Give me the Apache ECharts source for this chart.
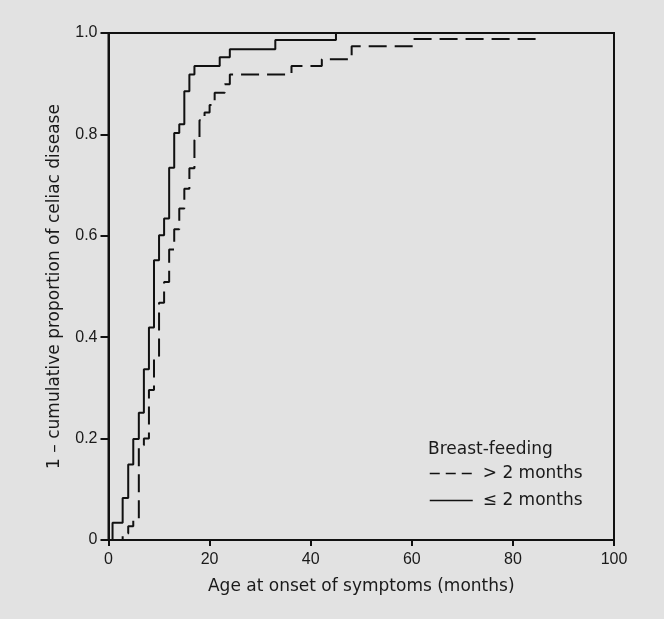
<!DOCTYPE html>
<html>
<head>
<meta charset="utf-8">
<script src="https://cdn.jsdelivr.net/npm/echarts@6/dist/echarts.min.js"></script>
<style>
  html, body { margin: 0; padding: 0; background: #e2e2e2; }
  #chart { width: 664px; height: 619px; }
</style>
</head>
<body>
<div id="chart"></div>
<script>
// breast-feeding <= 2 months (solid)
const shortMonths = [0, 0.8, 2.8, 3.9, 4.9, 6, 7, 8, 9, 10, 11, 12, 13, 14, 15, 16, 17, 22, 24, 33, 45, 100];
const shortProp = [0, 0.034, 0.083, 0.149, 0.199, 0.251, 0.337, 0.419, 0.552, 0.601, 0.634, 0.734, 0.803, 0.82, 0.885, 0.918, 0.935, 0.952, 0.968, 0.986, 1, 1];

// breast-feeding > 2 months (dashed)
const longMonths = [0, 2.8, 3.9, 4.9, 6, 7, 8, 9, 10, 11, 12, 13, 14, 15, 16, 17, 18, 19, 20, 21, 23, 24, 36.2, 42.2, 48.1, 60.2, 84.5, 100];
const longProp = [0, 0.013, 0.027, 0.04, 0.187, 0.2, 0.296, 0.363, 0.468, 0.509, 0.573, 0.613, 0.654, 0.693, 0.733, 0.789, 0.828, 0.843, 0.858, 0.882, 0.899, 0.918, 0.935, 0.948, 0.974, 0.988, 1, 1];

const legendNames = ["> 2 months", "\u2264 2 months"];
const xTitle = "Age at onset of symptoms (months)";
const yTitle = "1 \u2013 cumulative proportion of celiac disease";

const font = "'Liberation Sans', Arial, sans-serif";
const wideFont = "'DejaVu Sans', sans-serif";
const ink = "#1a1a1a";

const pairs = (xs, ys) => xs.map((x, i) => [x, ys[i]]);

const option = {
  backgroundColor: "#e2e2e2",
  animation: false,
  textStyle: { fontFamily: font, color: ink },
  title: {
    text: "Breast-feeding",
    left: 428,
    top: 441,
    padding: 0,
    textStyle: { fontFamily: wideFont, fontSize: 17, fontWeight: "normal", color: ink }
  },
  legend: {
    orient: "vertical",
    left: 429,
    top: 465,
    padding: 0,
    itemWidth: 43,
    itemHeight: 14,
    itemGap: 10,
    itemStyle: { opacity: 0, borderWidth: 0 },
    textStyle: { fontFamily: wideFont, fontSize: 17, color: ink, padding: [0, 0, 0, 5] },
    data: [
      { name: legendNames[0], lineStyle: { type: [10, 6], width: 1.5 } },
      { name: legendNames[1], lineStyle: { width: 1.5 } }
    ]
  },
  grid: {
    left: 108.5,
    right: 50,
    top: 33,
    bottom: 79,
    show: true,
    borderColor: "#111",
    borderWidth: 2,
    backgroundColor: "transparent",
    outerBoundsMode: "none"
  },
  xAxis: {
    type: "value",
    min: 0,
    max: 100,
    interval: 20,
    name: xTitle,
    nameLocation: "middle",
    nameGap: 38,
    nameTextStyle: { fontFamily: wideFont, fontSize: 17, color: ink },
    splitLine: { show: false },
    axisLine: { lineStyle: { color: "#111", width: 2 } },
    axisTick: { length: 6, lineStyle: { color: "#111", width: 2 } },
    axisLabel: { fontFamily: font, fontSize: 16, color: ink, margin: 12 }
  },
  yAxis: {
    type: "value",
    min: 0,
    max: 1,
    interval: 0.2,
    name: yTitle,
    nameLocation: "middle",
    nameGap: 45,
    nameTextStyle: { fontFamily: wideFont, fontSize: 17, color: ink },
    splitLine: { show: false },
    axisLine: { lineStyle: { color: "#111", width: 2 } },
    axisTick: { length: 8, lineStyle: { color: "#111", width: 2 } },
    axisLabel: {
      fontFamily: font,
      fontSize: 16,
      color: ink,
      margin: 11,
      formatter: v => (v === 0 ? "0" : v.toFixed(1))
    }
  },
  series: [
    {
      name: legendNames[0],
      type: "line",
      step: "end",
      symbol: "none",
      data: pairs(longMonths, longProp),
      lineStyle: { color: "#111", width: 2, type: [18, 8] },
      itemStyle: { color: "#111" }
    },
    {
      name: legendNames[1],
      type: "line",
      step: "end",
      symbol: "none",
      data: pairs(shortMonths, shortProp),
      lineStyle: { color: "#111", width: 2 },
      itemStyle: { color: "#111" }
    }
  ]
};

const chart = echarts.init(document.getElementById("chart"));
chart.setOption(option);
</script>
</body>
</html>
